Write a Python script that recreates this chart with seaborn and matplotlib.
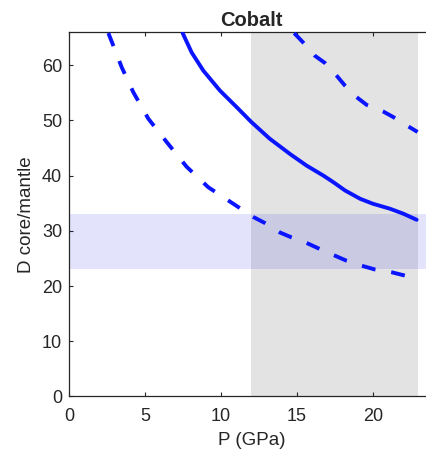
import matplotlib
matplotlib.use("Agg")
import matplotlib.pyplot as plt
import seaborn as sns
import pandas as pd

# Partition coefficient of cobalt vs pressure: central estimate and bounds
p_mid = [7.48, 8.07, 8.84, 9.93, 11.03, 12.0, 13.2, 14.55, 15.64, 16.74, 17.4,
         18.17, 19.16, 20.0, 21.12, 22.0, 22.88]
d_mid = [65.8, 62.3, 59.0, 55.4, 52.4, 49.7, 46.7, 43.9, 41.8, 40.0, 38.8,
         37.3, 35.8, 34.9, 34.0, 33.1, 32.0]

p_low = [2.59, 2.92, 3.47, 4.23, 5.22, 6.42, 7.74, 9.16, 10.81, 12.13, 12.9,
         13.88, 14.65, 15.64, 16.51, 17.5, 18.25, 19.24, 20.13, 21.23, 22.1, 22.9]
d_low = [65.8, 63.5, 59.6, 55.1, 50.3, 46.1, 41.6, 37.9, 34.9, 32.5, 31.4,
         29.7, 28.8, 27.8, 26.7, 25.5, 24.6, 23.7, 23.0, 22.5, 21.9, 21.5]

p_high = [14.82, 15.41, 16.18, 16.84, 17.61, 18.16, 18.93, 19.59, 20.68, 21.34, 22.33, 22.94]
d_high = [65.8, 64.1, 61.7, 60.4, 58.1, 56.3, 54.2, 52.8, 51.6, 50.6, 48.9, 47.9]

# Shaded ranges: pressure window and observed D range
p_range = [12.0, 23.0]
d_range = [23.0, 33.0]

title = "Cobalt"
xlabel = "P (GPa)"
ylabel = "D core/mantle"
xticks = [0, 5, 10, 15, 20]
yticks = [0, 10, 20, 30, 40, 50, 60]

sns.set_style("white")
plt.rcParams["font.family"] = ["Liberation Sans", "DejaVu Sans"]
plt.rcParams["text.color"] = "#262626"
plt.rcParams["axes.labelcolor"] = "#262626"
plt.rcParams["xtick.color"] = "#262626"
plt.rcParams["ytick.color"] = "#262626"

fig = plt.figure(figsize=(4.26, 4.57), dpi=100)
ax = fig.add_axes([0.162, 0.1324, 0.856, 0.7976])

ax.axvspan(p_range[0], p_range[1], color=(0.89, 0.89, 0.89), lw=0, zorder=0)
ax.axhspan(d_range[0], d_range[1], color=(0.0, 0.0, 0.9), alpha=0.11, lw=0, zorder=1)

blue = "#0a14ff"
df_mid = pd.DataFrame({"P": p_mid, "D": d_mid})
df_low = pd.DataFrame({"P": p_low, "D": d_low})
df_high = pd.DataFrame({"P": p_high, "D": d_high})

sns.lineplot(data=df_mid, x="P", y="D", ax=ax, color=blue, lw=2.8, zorder=3)
for df in (df_low, df_high):
    sns.lineplot(data=df, x="P", y="D", ax=ax, color=blue, lw=2.8, zorder=3)
    ax.lines[-1].set_dashes((3.6, 4.1))

ax.set_xlim(0, 24)
ax.set_ylim(0, 66)
ax.set_xticks(xticks)
ax.set_yticks(yticks)
ax.tick_params(direction="in", length=3, width=0.8, labelsize=13,
               bottom=True, left=True, top=True, right=True)
ax.tick_params(axis="x", pad=8)
ax.tick_params(axis="y", pad=5)
for s in ax.spines.values():
    s.set_color("#262626")
    s.set_linewidth(0.9)

ax.set_xlabel(xlabel, fontsize=13.5, labelpad=5)
ax.set_ylabel(ylabel, fontsize=13.5, labelpad=5)
ax.set_title(title, fontsize=14.5, fontweight="bold", pad=4)

fig.savefig("out.png", dpi=100)
